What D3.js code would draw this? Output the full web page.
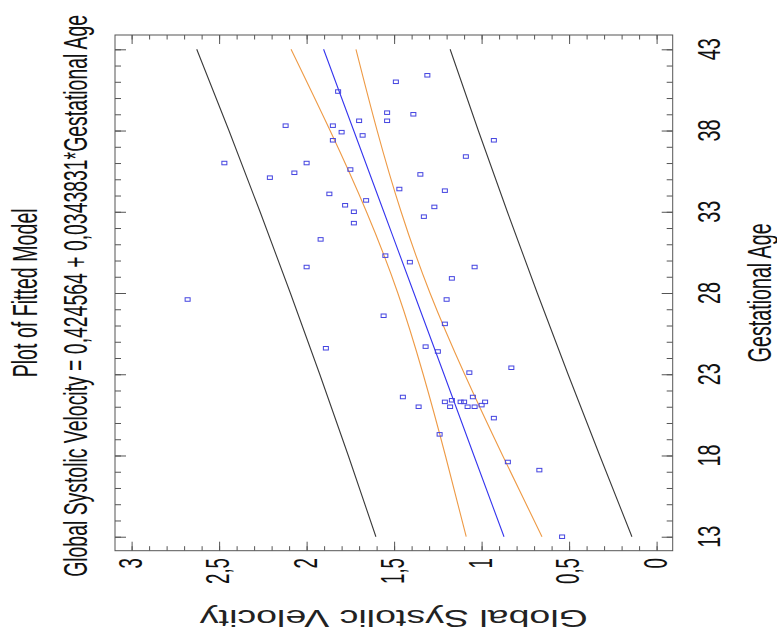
<!DOCTYPE html>
<html>
<head>
<meta charset="utf-8">
<script src="https://cdn.jsdelivr.net/npm/d3@7"></script>
<style>
  body { margin: 0; background: #fff; }
  text { font-family: "Liberation Sans", Arial, sans-serif; fill: #111; }
</style>
</head>
<body>
<div id="canvas"></div>
<script>
// Plot of fitted model (chart is drawn turned on its side, like the source picture)

// observations
var ages = [41.4, 41.0, 40.4, 39.1, 39.0, 38.6, 38.6, 38.3, 38.3, 37.9,
            37.7, 37.4, 37.4, 36.4, 36.0, 36.0, 35.4, 35.1, 35.3, 35.6,
            34.4, 34.3, 34.1, 33.7, 33.3, 33.4, 33.0, 32.7, 32.3, 31.3,
            30.3, 29.9, 29.6, 29.6, 28.9, 27.6, 27.6, 26.6, 26.1, 24.6,
            24.7, 24.4, 23.1, 23.4, 21.6, 21.0, 21.3, 21.0, 21.4, 21.3,
            21.3, 21.0, 21.6, 21.0, 21.1, 21.3, 20.3, 19.3, 17.6, 17.1, 13.0];
var velocities = [1.31, 1.49, 1.82, 1.54, 1.39, 1.54, 1.70, 2.12, 1.85, 1.80,
                  1.68, 1.85, 0.93, 1.09, 2.47, 2.00, 2.07, 2.21, 1.35, 1.75,
                  1.47, 1.21, 1.87, 1.66, 1.27, 1.78, 1.73, 1.33, 1.73, 1.92,
                  1.55, 1.41, 2.00, 1.04, 1.17, 1.20, 2.68, 1.56, 1.21, 1.89,
                  1.32, 1.25, 1.07, 0.83, 1.45, 1.36, 1.21, 1.18, 1.17, 1.12,
                  1.10, 1.08, 1.05, 1.04, 1.00, 0.98, 0.93, 1.24, 0.85, 0.67, 0.54];

// fitted line and bands, read at these ages
var bandAges   = [13, 18, 23, 28, 33, 38, 43];
var fitted     = [0.872, 1.044, 1.215, 1.387, 1.559, 1.731, 1.903];
var confUpper  = [1.088, 1.207, 1.334, 1.479, 1.658, 1.866, 2.089];
var confLower  = [0.655, 0.880, 1.097, 1.295, 1.460, 1.597, 1.718];
var predUpper  = [1.604, 1.762, 1.925, 2.093, 2.266, 2.444, 2.628];
var predLower  = [0.141, 0.325, 0.506, 0.682, 0.853, 1.019, 1.180];

// tick labels
var ageTicks = [13, 18, 23, 28, 33, 38, 43];
var velTicks = [0, 0.5, 1, 1.5, 2, 2.5, 3];
var velTickLabels = ['0', '0,5', '1', '1,5', '2', '2,5', '3'];

var W = 777, H = 633;
var m = {t:35, r:104.3, b:82.3, l:115};

var svg = d3.select('#canvas').append('svg')
    .attr('width', W).attr('height', H);

// velocity runs right-to-left, age runs bottom-to-top
var x = d3.scaleLinear().domain([3.095, -0.092]).range([m.l, W - m.r]);
var y = d3.scaleLinear().domain([12.14, 43.88]).range([H - m.b, m.t]);

var minorVel = d3.range(0, 31).map(function(i){ return i / 10; });
var minorAge = d3.range(13, 44);

// ticks on all four sides, pointing inward
var axes = svg.append('g').attr('class', 'axes');
function tickAxis(gen, vals, size, tr){
  axes.append('g').attr('transform', tr)
    .call(gen.tickValues(vals).tickSize(size).tickFormat(''))
    .call(function(g){
      g.select('.domain').remove();
      g.selectAll('line').attr('stroke', '#555');
    });
}
tickAxis(d3.axisBottom(x), minorVel, -4.5, 'translate(0,' + (H - m.b) + ')');
tickAxis(d3.axisBottom(x), velTicks, -9, 'translate(0,' + (H - m.b) + ')');
tickAxis(d3.axisTop(x), minorVel, -4.5, 'translate(0,' + m.t + ')');
tickAxis(d3.axisTop(x), velTicks, -9, 'translate(0,' + m.t + ')');
tickAxis(d3.axisLeft(y), minorAge, -6, 'translate(' + m.l + ',0)');
tickAxis(d3.axisLeft(y), ageTicks, -11, 'translate(' + m.l + ',0)');
tickAxis(d3.axisRight(y), minorAge, -6, 'translate(' + (W - m.r) + ',0)');
tickAxis(d3.axisRight(y), ageTicks, -11, 'translate(' + (W - m.r) + ',0)');

// frame
svg.append('rect')
  .attr('x', m.l).attr('y', m.t)
  .attr('width', W - m.l - m.r).attr('height', H - m.t - m.b)
  .attr('fill', 'none').attr('stroke', '#555').attr('stroke-width', 1);

// lines
var line = d3.line()
  .x(function(d){ return x(d[1]); })
  .y(function(d){ return y(d[0]); })
  .curve(d3.curveNatural);

function band(vals, color){
  svg.append('path')
    .datum(bandAges.map(function(a, i){ return [a, vals[i]]; }))
    .attr('d', line)
    .attr('fill', 'none')
    .attr('stroke', color)
    .attr('stroke-width', 1.1);
}
band(predUpper, '#3a3a3a');
band(predLower, '#3a3a3a');
band(confUpper, '#ee9a45');
band(confLower, '#ee9a45');
band(fitted, '#3535ee');

// points
svg.selectAll('.pt')
  .data(ages)
  .enter().append('rect').attr('class', 'pt')
  .attr('x', function(d, i){ return x(velocities[i]) - 2.5; })
  .attr('y', function(d){ return y(d) - 1.75; })
  .attr('width', 5).attr('height', 3.5)
  .attr('fill', 'none')
  .attr('stroke', '#4444e0')
  .attr('stroke-width', 1);

// age tick labels (right side)
svg.selectAll('.agelab')
  .data(ageTicks)
  .enter().append('text').attr('class', 'agelab')
  .attr('transform', function(d){ return 'translate(720,' + y(d) + ') rotate(-90)'; })
  .attr('text-anchor', 'middle')
  .attr('font-size', 32)
  .attr('textLength', 22)
  .attr('lengthAdjust', 'spacingAndGlyphs')
  .text(function(d){ return d; });

// velocity tick labels (bottom)
svg.selectAll('.vellab')
  .data(velTicks)
  .enter().append('text').attr('class', 'vellab')
  .attr('transform', function(d){ return 'translate(' + (x(d) + 10) + ',558) rotate(-90) scale(0.55,1)'; })
  .attr('text-anchor', 'end')
  .attr('font-size', 34)
  .text(function(d, i){ return velTickLabels[i]; });

// titles
var cy = (m.t + H - m.b) / 2;
function sideText(str, bx, fs, len, dy){
  svg.append('text')
    .attr('transform', 'translate(' + bx + ',' + (cy + dy) + ') rotate(-90)')
    .attr('text-anchor', 'middle')
    .attr('font-size', fs)
    .attr('textLength', len)
    .attr('lengthAdjust', 'spacingAndGlyphs')
    .text(str);
}
sideText('Plot of Fitted Model', 37, 35, 169, 0);
sideText('Global Systolic Velocity = 0,424564 + 0,0343831*Gestational Age', 87, 33, 562, 3);
sideText('Gestational Age', 771, 33, 139, 0);

// y axis label, upside down at the bottom
svg.append('text')
  .attr('transform', 'translate(' + ((m.l + W - m.r) / 2) + ',610) rotate(180)')
  .attr('text-anchor', 'middle')
  .attr('font-size', 24)
  .attr('textLength', 388)
  .attr('lengthAdjust', 'spacingAndGlyphs')
  .style('fill', '#222')
  .text('Global Systolic Velocity');
</script>
</body>
</html>
